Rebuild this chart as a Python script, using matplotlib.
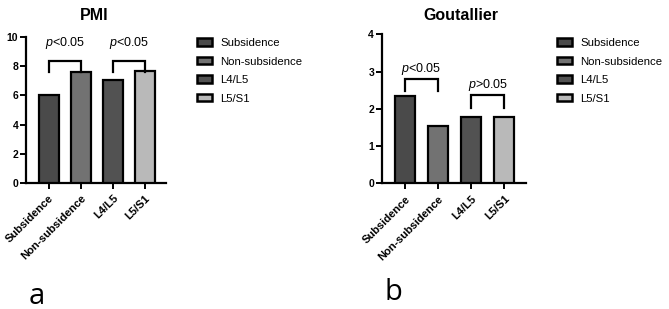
import matplotlib
matplotlib.use("Agg")
import matplotlib.pyplot as plt
from matplotlib.patches import Patch

plt.rcParams['font.family'] = ['Liberation Sans', 'DejaVu Sans']
plt.rcParams['mathtext.fontset'] = 'custom'
plt.rcParams['mathtext.it'] = 'Liberation Sans:italic'
plt.rcParams['mathtext.rm'] = 'Liberation Sans'

categories = ['Subsidence', 'Non-subsidence', 'L4/L5', 'L5/S1']
pmi_values = [6.0, 7.6, 7.05, 7.65]
goutallier_values = [2.35, 1.55, 1.77, 1.77]
bar_colors = ['#4a4a4a', '#727272', '#525252', '#b9b9b9']

pmi_ticks = [0, 2, 4, 6, 8, 10]
gout_ticks = [0, 1, 2, 3, 4]

# bracket annotations: (left index, right index, top, leg bottom, text y, label)
pmi_brackets = [(0, 1, 8.4, 7.6, 9.6, r'$p$<0.05'),
                (2, 3, 8.4, 7.6, 9.6, r'$p$<0.05')]
gout_brackets = [(0, 1, 2.79, 2.48, 3.06, r'$p$<0.05'),
                 (2, 3, 2.36, 2.01, 2.64, r'$p$>0.05')]

fig = plt.figure(figsize=(6.69, 3.09), dpi=100)
W, H = 669, 309

def make_axes(left, right, bottom_px, top_px):
    return fig.add_axes([left / W, 1 - bottom_px / H, (right - left) / W, (bottom_px - top_px) / H])

def draw_panel(ax, values, ticks, brackets, title, title_x):
    x = list(range(len(categories)))
    ax.bar(x, values, width=0.62, color=bar_colors, edgecolor='black', linewidth=1.6, zorder=3)
    ax.set_xlim(-0.71, 3.66)
    ax.set_ylim(ticks[0], ticks[-1])
    ax.set_yticks(ticks)
    ax.set_xticks(x)
    ax.set_xticklabels(categories, rotation=45, ha='right', rotation_mode='anchor',
                       fontsize=8, fontweight='bold')
    for lab in ax.get_yticklabels():
        lab.set_fontsize(7.5)
        lab.set_fontweight('bold')
    for s in ['top', 'right']:
        ax.spines[s].set_visible(False)
    for s in ['left', 'bottom']:
        ax.spines[s].set_linewidth(1.6)
    ax.tick_params(axis='both', width=1.4, length=4.5)
    ax.tick_params(axis='y', pad=1)
    ax.tick_params(axis='x', pad=3)
    for (i, j, top, leg, ty, lab) in brackets:
        ax.plot([i, i, j, j], [leg, top, top, leg], color='black', lw=1.6, zorder=4,
                solid_joinstyle='miter', clip_on=False)
        ax.text((i + j) / 2, ty, lab, ha='center', va='center', fontsize=9)
    fig.text(title_x / W, 1 - 16 / H, title, ha='center', va='center',
             fontsize=11.5, fontweight='bold')

ax1 = make_axes(26, 166, 182.7, 37.3)
draw_panel(ax1, pmi_values, pmi_ticks, pmi_brackets, 'PMI', 94)

ax2 = make_axes(381.7, 526, 183.3, 34.3)
draw_panel(ax2, goutallier_values, gout_ticks, gout_brackets, 'Goutallier', 461)

handles = [Patch(facecolor=c, edgecolor='black', linewidth=1.8) for c in bar_colors]
for lx in (197, 557):
    fig.legend(handles, categories, loc='upper left', bbox_to_anchor=(lx / W, 1 - 38 / H),
               frameon=False, fontsize=8.2, handlelength=1.3, handleheight=0.65,
               handletextpad=0.75, labelspacing=0.75, borderpad=0, borderaxespad=0)

fig.text(37 / W, 1 - 296 / H, 'a', ha='center', va='center', fontsize=21, family='Open Sans')
fig.text(393 / W, 1 - 292 / H, 'b', ha='center', va='center', fontsize=21, family='Open Sans')

fig.savefig('out.png', dpi=100)
